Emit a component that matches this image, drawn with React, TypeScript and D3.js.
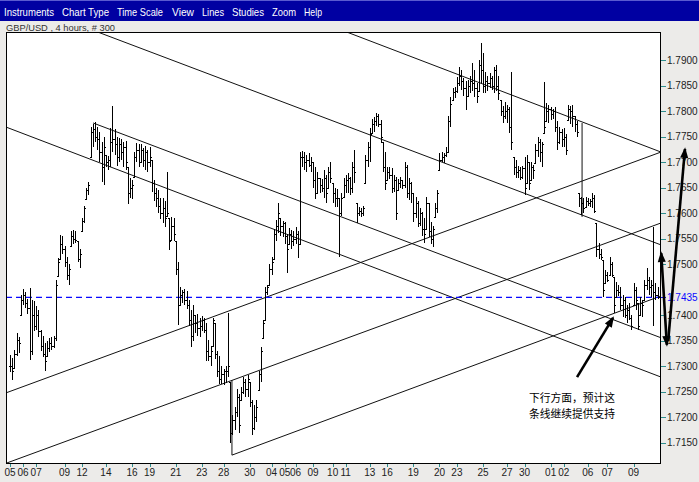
import React from "react";
import * as d3 from "d3";

// Price values are stored in pips above PIP_BASE (1 pip = 0.0001)
const PIP_BASE = 1.7;
const PIP = 0.0001;

const highs = [
  322,316,332, 365,358, 440,452,445, 432, 453, 430,428, 418,410, 372,360, 346, 350,355,357,360,
  470, 512, 558,555, 535, 515,500, 565,568, 566, 545,530, 590,615, 650,662, 770, 775,778,770,
  760,740, 750, 715,712, 768, 810, 765,750, 748,745,740,742, 690, 670,665, 720,738,735,
  735,728,732,725,730, 705, 665,650, 645,630, 630,625, 680, 590, 592,590, 545,505, 455,450,
  452,448, 430,410,420, 400,402,395, 398,395, 385, 352,340, 395,385, 330,320, 300,295, 300,405,
  270, 205,220, 255,245, 260,279,275, 283,270, 234, 225,235, 290,338, 391, 455,460, 500,514,
  570,587, 620, 590,585, 583,560, 572,568,565,573, 565, 720, 722,720,715,718,710, 700,690,680,
  670,668, 685,675, 690,700, 660,650, 648,630,640, 670,675, 679,672, 700,724, 620, 612,610,615,
  714, 740,767, 785,789, 797,795, 783, 740,720, 691,690, 689,675, 671, 668,671,665, 700,695,670,
  661, 640, 632,625,610, 602,590, 632,620, 583,575, 620,646, 718, 720,718, 730, 790,828, 845,847,
  867, 887,880, 866,860, 862,870,895,880, 855, 900,934, 914, 877,870, 875,870, 887, 891,870,
  822,810, 818,812, 808, 877, 710,705, 693,690,692, 710, 714,700, 700,695, 735,749, 745,740, 857,
  816,812, 808,805, 808,780, 769,765, 767,755, 812, 810,812, 790,780, 640, 632,630, 632,630,628,
  640,635, 581, 542,530, 509, 489,485, 514,505, 475, 465,460, 455,440, 436,420, 424,400, 463,455,
  424, 436,430, 470,493, 475,470, 573, 463,455,
];

const lows = [
  289,273,297, 320,326, 400,420,415, 402, 312, 322,370, 372,358, 330,318, 290, 320,328,332,335,
  350, 478, 510,520, 495, 470,460, 535,540, 542, 505,493, 565,580, 628,635, 710, 730,740,725,
  700,662, 655, 690,685, 690, 720, 715,692, 700,705,690,685, 618, 630,628, 672,700,690,
  700,690,685,680,690, 642, 625,612, 600,588, 580,573, 595, 528, 548,545, 480,382, 418,425,
  420,412, 380,338,350, 365,360,358, 370,365, 310, 310,300, 340,315, 280,265, 265,264, 268,280,
  150, 165,175, 200,170, 235,245,240, 240,220, 165, 175,190, 254,270, 355, 390,440, 460,480,
  510,545, 561, 555,553, 540,483, 540,530,535,540, 512, 540, 690,685,680,690,680, 650,628,640,
  640,642, 630,620, 650,660, 620,612, 612,514,595, 632,640, 640,635, 640,660, 581, 595,593,595,
  660, 690,700, 757,760, 772,769, 738, 680,646, 666,668, 640,642, 587, 646,650,648, 650,630,626,
  620, 583, 590,573,575, 555,542, 570,553, 540,534, 593,600, 685, 700,699, 710, 720,770, 822,825,
  836, 850,842, 830,802, 830,835,840,828, 816, 840,855, 836, 836,840, 845,842, 836, 840,822,
  790,777, 785,777, 757, 724, 675,669, 670,665,668, 636, 660,646, 665,668, 699,710, 700,691, 757,
  780,777, 783,785, 760,724, 735,730, 730,714, 783, 775,770, 760,749, 612, 597,600, 612,615,612,
  610,601, 514, 510,509, 436, 463,465, 480,475, 405, 436,438, 410,397, 395,385, 390,371, 420,411,
  371, 400,397, 430,450, 440,436, 380, 430,432,
];

const closes = [
  300,290,325, 352,345, 430,440,425, 415, 330, 400,380, 400,370, 340,325, 310, 335,345,340,355,
  460, 505, 540,530, 505, 480,490, 555,550, 548, 510,520, 585,610, 645,655, 760, 765,750,745,
  720,690, 730, 700,705, 740, 745, 735,710, 735,720,730,700, 640, 650,655, 710,725,700,
  725,705,720,700,710, 660, 640,630, 615,600, 610,590, 600, 545, 575,560, 490,420, 440,445,
  430,420, 390,360,400, 385,375,380, 390,372, 330, 320,330, 390,325, 290,275, 285,290, 290,300,
  170, 195,210, 240,185, 250,270,255, 275,230, 180, 200,220, 285,330, 385, 445,455, 490,505,
  560,575, 600, 575,580, 555,530, 560,545,550,560, 540, 710, 710,700,705,695,700, 665,640,670,
  655,650, 670,640, 680,670, 640,630, 630,600,630, 655,665, 670,650, 690,680, 600, 605,600,610,
  705, 730,755, 775,780, 790,775, 750, 690,660, 680,675, 650,665, 600, 660,665,655, 690,640,660,
  640, 600, 620,580,600, 570,560, 620,565, 550,570, 610,640, 705, 710,715, 720, 780,815, 838,840,
  855, 870,860, 845,830, 850,860,855,845, 830, 890,880, 850, 860,855, 865,850, 880, 850,835,
  800,790, 800,805, 770, 740, 690,680, 685,672,688, 650, 700,660, 690,685, 725,740, 720,735, 770,
  800,805, 795,800, 770,740, 760,745, 750,725, 805, 800,790, 775,760, 630, 620,610, 625,620,625,
  630,605, 530, 520,515, 450, 480,470, 500,480, 420, 450,445, 420,430, 400,410, 395,380, 450,430,
  380, 425,420, 460,470, 455,460, 445, 440,435,
];

const currentPrice = 1.7435;

const yTickValues = [
  1.715, 1.72, 1.725, 1.73, 1.735, 1.74, 1.745, 1.75,
  1.755, 1.76, 1.765, 1.77, 1.775, 1.78, 1.785, 1.79,
];

const xTickLabels = [
  "05","06","07","09","12","14","16","19","21","23","28","30",
  "04","05","06","09","10","11","13","16","19","20","23","25","27","30",
  "01","02","06","07","09",
];
const xTickBars = [
  0,6,12,25,33,44,56,64,76,88,98,110,
  120,126,131,139,148,154,165,173,185,197,205,217,228,236,
  248,254,265,274,286,
];

// Channel lines: [bar index, price] -> [bar index, price]
const lineStartBar = [154.6, 40.4, 38.1, -1.83, -1.83, -1.83, 101.8, 101.8, 262.4];
const lineStartPrice = [1.7955, 1.7955, 1.7777, 1.7769, 1.7248, 1.7110, 1.7126, 1.7273, 1.7777];
const lineEndBar = [298.6, 298.6, 298.6, 298.6, 298.6, 298.6, 298.6, 101.8, 262.4];
const lineEndPrice = [1.7720, 1.7538, 1.7356, 1.7279, 1.7720, 1.7581, 1.7438, 1.7126, 1.7593];

// Annotation arrows (bar index, price)
const arrowFromBar = [260.1, 298.7, 301.9];
const arrowFromPrice = [1.7279, 1.7522, 1.7350];
const arrowToBar = [276.6, 301.3, 309.6];
const arrowToPrice = [1.7395, 1.7342, 1.7726];
const arrowDoubleHead = [false, true, false];

const menuItems = ["Instruments", "Chart Type", "Time Scale", "View", "Lines", "Studies", "Zoom", "Help"];
const chartTitle = "GBP/USD , 4 hours, # 300";
const noteLines = ["下行方面，预计这", "条线继续提供支持"];

export default function App() {
  const W = 699, H = 482;
  const left = 6, right = 661, top = 32, bottom = 464;
  const n = Math.min(highs.length, lows.length, closes.length);
  const toPrice = (p: number) => PIP_BASE + p * PIP;

  const x = d3.scaleLinear().domain([0, 297]).range([10, 657.5]);
  const y = d3.scaleLinear().domain([1.71086, 1.79553]).range([bottom, top]);

  const font = "'Liberation Sans', Arial, sans-serif";

  let barPath = "";
  for (let i = 0; i < n; i++) {
    const hi = toPrice(highs[i]);
    const lo = toPrice(lows[i]);
    const cl = toPrice(closes[i]);
    const opRaw = i > 0 ? toPrice(closes[i - 1]) : cl;
    const op = Math.max(lo, Math.min(hi, opRaw));
    const xi = Math.round(x(i)) + 0.5;
    const yh = Math.round(y(hi)), yl = Math.round(y(lo));
    const yo = Math.round(y(op)) + 0.5, yc = Math.round(y(cl)) + 0.5;
    barPath += `M${xi},${yh}V${yl === yh ? yh + 1 : yl}`;
    barPath += `M${xi - 1.5},${yo}H${xi}`;
    barPath += `M${xi},${yc}H${xi + 1.5}`;
  }

  const line = d3.line<[number, number]>().x(d => x(d[0])).y(d => y(d[1]));

  const menuX = [4, 62, 117, 172, 202, 232, 272, 304];
  const menuW = [50, 47, 46, 22, 22, 32, 24, 18];

  const yLabels = yTickValues.filter(v => Math.abs(v - currentPrice) > 0.002);

  return (
    <svg width={W} height={H} style={{ position: "absolute", left: 0, top: 0 }} xmlns="http://www.w3.org/2000/svg">
      <defs>
        <clipPath id="plotClip">
          <rect x={left} y={top} width={right - left} height={bottom - top} />
        </clipPath>
        <marker id="ah" viewBox="0 -5 12 10" refX="10" refY="0" markerWidth="12" markerHeight="9"
          markerUnits="userSpaceOnUse" orient="auto-start-reverse">
          <path d="M0,-4.5L12,0L0,4.5Z" fill="#000" />
        </marker>
      </defs>
      <rect x={0} y={0} width={W} height={H} fill="#ecebe9" />
      {/* menu bar */}
      <rect x={0} y={0} width={W} height={21} fill="#0000a2" />
      <rect x={0} y={0} width={W} height={1} fill="#5a5ad0" />
      {menuItems.map((m, i) => (
        <text key={m} x={menuX[i]} y={16} fontSize={11.5} fill="#ffffff" fontFamily={font}
          textLength={menuW[i]} lengthAdjust="spacingAndGlyphs">{m}</text>
      ))}
      {/* title */}
      <text x={6} y={31} fontSize={9.5} fill="#333" fontFamily={font} textLength={109} lengthAdjust="spacingAndGlyphs">{chartTitle}</text>
      {/* plot */}
      <rect x={left} y={top} width={right - left} height={bottom - top} fill="#ffffff" />
      <g clipPath="url(#plotClip)">
        {lineStartBar.map((b, i) => (
          <path key={i} d={line([[b, lineStartPrice[i]], [lineEndBar[i], lineEndPrice[i]]]) || ""}
            fill="none" stroke="#111" strokeWidth={1} />
        ))}
        <line x1={left} x2={right} y1={y(currentPrice)} y2={y(currentPrice)} stroke="#0a0aff"
          strokeWidth={1.2} strokeDasharray="6,4" />
        <path d={barPath} fill="none" stroke="#000" strokeWidth={1} shapeRendering="crispEdges" />
      </g>
      <rect x={left + 0.5} y={top + 0.5} width={right - left - 1} height={bottom - top - 1} fill="none" stroke="#000" strokeWidth={1} shapeRendering="crispEdges" />
      {/* y axis */}
      {yLabels.map(v => (
        <g key={v}>
          <line x1={right} x2={right + 5} y1={Math.round(y(v)) + 0.5} y2={Math.round(y(v)) + 0.5} stroke="#2f8f8f" />
          <text x={right + 6} y={y(v) + 3.5} fontSize={10} fill="#222" fontFamily={font}>{v.toFixed(4)}</text>
        </g>
      ))}
      <line x1={right} x2={right + 5} y1={Math.round(y(currentPrice)) + 0.5} y2={Math.round(y(currentPrice)) + 0.5} stroke="#0a0aff" />
      <text x={right + 6} y={y(currentPrice) + 3.5} fontSize={10} fill="#0a0aff" fontFamily={font}>{currentPrice.toFixed(4)}</text>
      {/* x axis */}
      {xTickBars.map((b, i) => (
        <g key={i}>
          <line x1={Math.round(x(b)) + 0.5} x2={Math.round(x(b)) + 0.5} y1={bottom} y2={bottom + 3} stroke="#2f8f8f" />
          <text x={x(b)} y={476} fontSize={10} fill="#222" fontFamily={font} textAnchor="middle">{xTickLabels[i]}</text>
        </g>
      ))}
      {/* annotation arrows */}
      {arrowFromBar.map((b, i) => (
        <line key={i} x1={x(b)} y1={y(arrowFromPrice[i])} x2={x(arrowToBar[i])} y2={y(arrowToPrice[i])}
          stroke="#000" strokeWidth={2.6}
          markerEnd="url(#ah)" markerStart={arrowDoubleHead[i] ? "url(#ah)" : undefined} />
      ))}
      {noteLines.map((t, i) => (
        <text key={i} x={529} y={402 + i * 15.5} fontSize={11} fill="#000"
          fontFamily="'Noto Sans CJK SC', sans-serif" textLength={86} lengthAdjust="spacingAndGlyphs">{t}</text>
      ))}
    </svg>
  );
}
